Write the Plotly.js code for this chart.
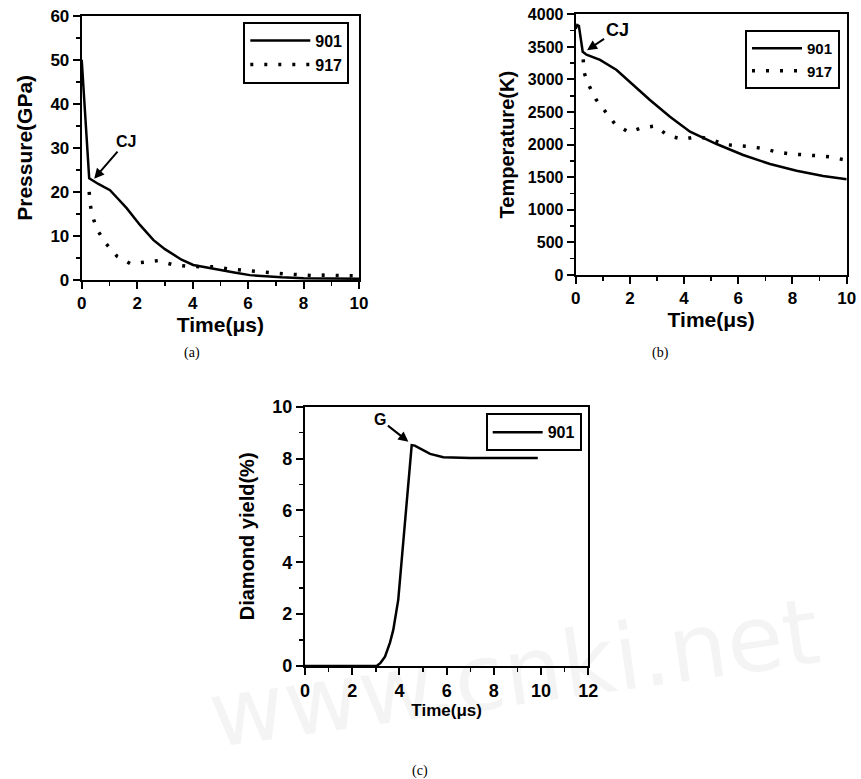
<!DOCTYPE html>
<html>
<head>
<meta charset="utf-8">
<script src="https://cdn.plot.ly/plotly-3.0.1.min.js"></script>
<style>html,body{margin:0;padding:0;background:#fff;}#chart{width:861px;height:779px;}</style>
</head>
<body>
<div id="chart"></div>
<script>
// (a) Pressure vs time
var pT901 = [0, 0.27, 0.6, 1.02, 1.3, 1.62, 2.1, 2.58, 3.0, 3.3, 3.6, 4.02, 4.5, 4.98, 5.5, 6.06, 6.6, 7.2, 8, 9, 10];
var pP901 = [50, 23.1, 21.8, 20.4, 18.5, 16.3, 12.5, 9.1, 7.0, 5.7, 4.6, 3.4, 2.8, 2.3, 1.7, 1.1, 0.8, 0.6, 0.4, 0.3, 0.3];
var pT917 = [0.27, 0.3, 0.4, 0.55, 0.87, 1.27, 1.75, 2.27, 2.75, 3.27, 3.8, 4.3, 4.8, 5.3, 5.8, 6.3, 6.8, 7.3, 7.8, 8.3, 8.7, 10];
var pP917 = [20, 17.3, 14.3, 11.5, 8.3, 5.4, 3.7, 4.0, 4.4, 3.5, 3.1, 3.0, 3.0, 2.5, 2.2, 2.0, 1.6, 1.4, 1.2, 1.0, 1.1, 0.9];

// (b) Temperature vs time
var tT901 = [0, 0.06, 0.12, 0.2, 0.26, 0.4, 0.9, 1.51, 2.13, 2.74, 3.48, 4.22, 5.2, 6.18, 7.17, 8.15, 9.13, 10];
var tK901 = [3780, 3836, 3820, 3550, 3426, 3380, 3300, 3145, 2915, 2685, 2429, 2199, 2010, 1841, 1703, 1600, 1519, 1468];
var tT917 = [0.28, 0.3, 0.5, 0.74, 1.08, 1.45, 1.97, 2.43, 2.93, 3.42, 3.97, 4.46, 4.96, 5.45, 5.94, 6.43, 6.92, 7.4, 7.9, 8.4, 8.9, 9.4, 10];
var tK917 = [3309, 3119, 2900, 2700, 2516, 2317, 2189, 2260, 2286, 2137, 2082, 2122, 2090, 2005, 1985, 1970, 1940, 1890, 1860, 1850, 1830, 1812, 1760];

// (c) Diamond yield vs time
var dT901 = [0, 3.04, 3.2, 3.39, 3.6, 3.74, 3.95, 4.14, 4.28, 4.45, 4.52, 4.65, 4.87, 5.3, 5.86, 7, 8.5, 9.86];
var dY901 = [0, 0, 0.12, 0.36, 0.9, 1.39, 2.55, 4.6, 6.27, 7.82, 8.52, 8.5, 8.4, 8.18, 8.05, 8.02, 8.02, 8.02];

var seriesNames = ['901', '917'];
var captions = ['(a)', '(b)', '(c)'];
var watermark = 'www.cnki.net';

var FONT = 'Liberation Sans, Arial, sans-serif';
var solid = {color: '#000', width: 2.5};
var dotted = {color: '#000', width: 3.5, dash: '3px,11px'};

var traces = [
  {x: pT901, y: pP901, name: seriesNames[0], mode: 'lines', line: solid, xaxis: 'x', yaxis: 'y', legend: 'legend'},
  {x: pT917, y: pP917, name: seriesNames[1], mode: 'lines', line: dotted, xaxis: 'x', yaxis: 'y', legend: 'legend'},
  {x: tT901, y: tK901, name: seriesNames[0], mode: 'lines', line: solid, xaxis: 'x2', yaxis: 'y2', legend: 'legend2'},
  {x: tT917, y: tK917, name: seriesNames[1], mode: 'lines', line: dotted, xaxis: 'x2', yaxis: 'y2', legend: 'legend2'},
  {x: dT901, y: dY901, name: seriesNames[0], mode: 'lines', line: {color: '#000', width: 2.5}, xaxis: 'x3', yaxis: 'y3', legend: 'legend3'}
];

function mnr(d) { return {dtick: d, ticks: 'outside', ticklen: 4, tickwidth: 1.5, tickcolor: '#000', showgrid: false}; }
function tf(size) { return {family: FONT, size: size, color: '#000', weight: 700}; }
function ax(opts) {
  var base = {
    showline: true, linecolor: '#000', linewidth: 2, mirror: true,
    ticks: 'outside', ticklen: 7, tickwidth: 2, tickcolor: '#000',
    showgrid: false, zeroline: false, fixedrange: true,
    tickfont: tf(17)
  };
  for (var k in opts) base[k] = opts[k];
  return base;
}
function ttl(text, size, standoff) {
  return {text: text, font: tf(size), standoff: standoff};
}
function leg(x, y, size, iw) {
  return {x: x, y: y, xanchor: 'right', yanchor: 'top', bgcolor: '#fff', bordercolor: '#000', borderwidth: 2,
    font: tf(size), tracegroupgap: 0, itemwidth: iw};
}

var layout = {
  width: 861, height: 779,
  margin: {l: 0, r: 0, t: 0, b: 0},
  paper_bgcolor: '#fff', plot_bgcolor: '#fff',
  showlegend: true,
  xaxis: ax({domain: [0.0949, 0.4170], range: [0, 10], dtick: 2, anchor: 'y', minor: mnr(1), title: ttl('Time(μs)', 21, 2)}),
  yaxis: ax({domain: [0.6406, 0.9798], range: [0, 60], dtick: 10, anchor: 'x', minor: mnr(5), title: ttl('Pressure(GPa)', 21, 12)}),
  xaxis2: ax({domain: [0.6686, 0.9834], range: [0, 10], dtick: 2, anchor: 'y2', minor: mnr(1), title: ttl('Time(μs)', 21, 2)}),
  yaxis2: ax({domain: [0.6470, 0.9816], range: [0, 4000], dtick: 500, anchor: 'x2', tickfont: tf(16), minor: mnr(250), title: ttl('Temperature(K)', 20, 8)}),
  xaxis3: ax({domain: [0.3542, 0.6833], range: [0, 12], dtick: 2, anchor: 'y3', tickfont: tf(18), minor: mnr(1), title: ttl('Time(μs)', 17, 0)}),
  yaxis3: ax({domain: [0.1451, 0.4779], range: [0, 10], dtick: 2, anchor: 'x3', tickfont: tf(18), minor: mnr(1), title: ttl('Diamond yield(%)', 20, 12)}),
  legend: leg(349.3 / 861, 1 - 21.7 / 779, 16, 60),
  legend2: leg(840 / 861, 1 - 30 / 779, 15, 50),
  legend3: leg(581.7 / 861, 1 - 413.3 / 779, 16, 50),
  annotations: [
    {xref: 'paper', yref: 'paper', x: 200 / 861, y: 1 - 772 / 779, xanchor: 'left', yanchor: 'bottom', text: watermark, showarrow: false, textangle: -8, font: {family: 'DejaVu Sans, sans-serif', size: 92, color: 'rgba(0,0,0,0.045)'}},
    {xref: 'x', yref: 'y', x: 0.45, y: 23, ax: 32, ay: -37, text: 'CJ', showarrow: true, arrowhead: 2, arrowsize: 1, arrowwidth: 2, arrowcolor: '#000', font: tf(16)},
    {xref: 'x2', yref: 'y2', x: 0.42, y: 3450, ax: 30, ay: -20, text: 'CJ', showarrow: true, arrowhead: 2, arrowsize: 1, arrowwidth: 2, arrowcolor: '#000', font: tf(18)},
    {xref: 'x3', yref: 'y3', x: 4.38, y: 8.65, ax: -28, ay: -22, text: 'G', showarrow: true, arrowhead: 2, arrowsize: 1, arrowwidth: 2, arrowcolor: '#000', font: tf(16)},
    {xref: 'paper', yref: 'paper', x: 192 / 861, y: 1 - 353 / 779, xanchor: 'center', yanchor: 'middle', text: captions[0], showarrow: false, font: {family: 'Liberation Serif, Times New Roman, serif', size: 14, color: '#000'}},
    {xref: 'paper', yref: 'paper', x: 660 / 861, y: 1 - 353 / 779, xanchor: 'center', yanchor: 'middle', text: captions[1], showarrow: false, font: {family: 'Liberation Serif, Times New Roman, serif', size: 14, color: '#000'}},
    {xref: 'paper', yref: 'paper', x: 420 / 861, y: 1 - 771 / 779, xanchor: 'center', yanchor: 'middle', text: captions[2], showarrow: false, font: {family: 'Liberation Serif, Times New Roman, serif', size: 14, color: '#000'}}
  ]
};

Plotly.newPlot('chart', traces, layout, {displayModeBar: false, staticPlot: true});
</script>
</body>
</html>
